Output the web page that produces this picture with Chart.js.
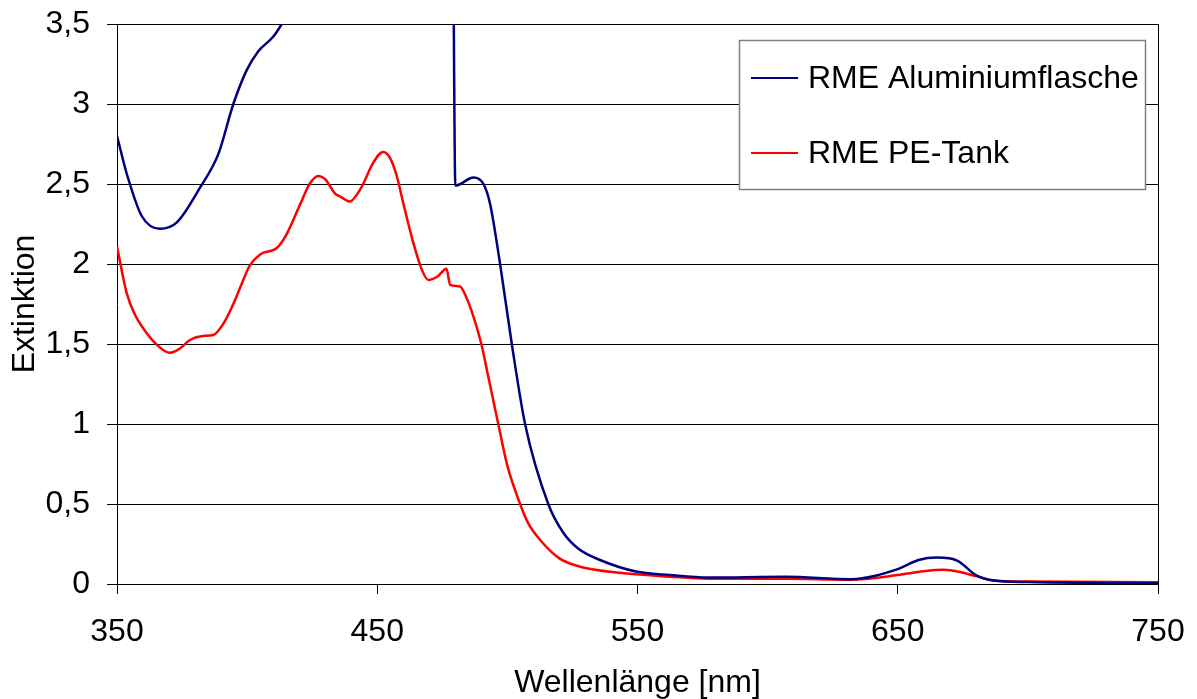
<!DOCTYPE html>
<html>
<head>
<meta charset="utf-8">
<script src="https://cdn.jsdelivr.net/npm/chart.js@4/dist/chart.umd.min.js"></script>
<style>
  html, body { margin: 0; padding: 0; background: #fff; }
  #wrap { width: 1197px; height: 699px; position: relative; }
</style>
</head>
<body>
<div id="wrap"><canvas id="spectrum"></canvas></div>
<script>
// Extinktionsspektren RME (Wellenlänge in nm, Extinktion)
const alWavelength = [350, 354, 359.5, 366.5, 373, 382, 389, 394.7, 399.8, 404.3, 410, 413.3,
  420, 440, 460, 479, 480, 487, 490.8, 493.3, 497.2, 501.7, 506.8, 515.7, 521.5, 527.3,
  535.6, 549.4, 562.5, 577, 607, 632, 650, 658, 665, 673, 680, 687, 700, 750];
const alExtinction = [2.80, 2.55, 2.30, 2.22, 2.26, 2.48, 2.69, 3.00, 3.21, 3.33, 3.42, 3.50,
  3.70, 3.90, 4.00, 4.10, 2.49, 2.54, 2.50, 2.38, 2.00, 1.50, 1.00, 0.50, 0.32, 0.22,
  0.15, 0.078, 0.056, 0.04, 0.045, 0.03, 0.093, 0.15, 0.165, 0.145, 0.056, 0.022, 0.012, 0.005];

const peWavelength = [350, 353.7, 357, 360, 365, 370.4, 374, 378, 383, 387, 391, 394.7, 398,
  401, 405, 411.4, 415, 420.3, 424, 427.4, 430, 433.8, 436, 439.5, 442, 444.6, 448, 452.3,
  455, 457.5, 460, 463.9, 467, 469.6, 473, 476.6, 478, 481.8, 484, 487, 490, 493, 496.5,
  500, 504.9, 508, 512.6, 520, 528, 543, 562.5, 577, 607, 632, 650, 660, 667.6, 674, 680,
  687, 700, 750];
const peExtinction = [2.11, 1.82, 1.68, 1.60, 1.50, 1.445, 1.47, 1.525, 1.55, 1.556, 1.63, 1.75, 1.88,
  1.99, 2.06, 2.10, 2.18, 2.37, 2.50, 2.55, 2.53, 2.44, 2.42, 2.39, 2.43, 2.50, 2.62, 2.70,
  2.66, 2.55, 2.38, 2.13, 1.97, 1.90, 1.92, 1.97, 1.87, 1.86, 1.80, 1.67, 1.50, 1.27, 1.00,
  0.74, 0.50, 0.38, 0.275, 0.16, 0.108, 0.07, 0.046, 0.033, 0.033, 0.027, 0.056, 0.08, 0.089, 0.075, 0.049,
  0.022, 0.015, 0.011];

const seriesLabels = ['RME Aluminiumflasche', 'RME PE-Tank'];
const seriesColors = ['#000080', '#ff0000'];

const FONT = 'Arial, "Liberation Sans", sans-serif';
const FONT_SIZE = 32;
Chart.defaults.font.family = FONT;
Chart.defaults.color = '#000';

const toPoints = (xs, ys) => xs.map((x, i) => ({ x: x, y: ys[i] }));

// Legend box inside the plot area
const boxLegend = {
  id: 'boxLegend',
  afterDraw(chart) {
    const ctx = chart.ctx;
    const x = 739.5, y = 40.5, w = 406, h = 149;
    ctx.save();
    ctx.fillStyle = '#fff';
    ctx.fillRect(x, y, w, h);
    ctx.strokeStyle = '#808080';
    ctx.lineWidth = 1.5;
    ctx.strokeRect(x, y, w, h);
    ctx.font = FONT_SIZE + 'px ' + FONT;
    ctx.textBaseline = 'middle';
    chart.data.datasets.forEach((ds, i) => {
      const cy = 78 + i * 75;
      ctx.strokeStyle = ds.borderColor;
      ctx.lineWidth = 2;
      ctx.beginPath();
      ctx.moveTo(751, cy);
      ctx.lineTo(798, cy);
      ctx.stroke();
      ctx.fillStyle = '#000';
      ctx.fillText(ds.label, 808, cy + 1);
    });
    ctx.restore();
  }
};

new Chart(document.getElementById('spectrum'), {
  type: 'line',
  data: {
    datasets: [
      {
        label: seriesLabels[0],
        data: toPoints(alWavelength, alExtinction),
        borderColor: seriesColors[0],
        borderWidth: 2.5,
        pointRadius: 0,
        cubicInterpolationMode: 'monotone',
        fill: false
      },
      {
        label: seriesLabels[1],
        data: toPoints(peWavelength, peExtinction),
        borderColor: seriesColors[1],
        borderWidth: 2.5,
        pointRadius: 0,
        cubicInterpolationMode: 'monotone',
        fill: false
      }
    ]
  },
  options: {
    responsive: true,
    maintainAspectRatio: false,
    animation: false,
    layout: { padding: { top: 24, right: 39, left: 0, bottom: 0 } },
    plugins: {
      legend: { display: false },
      tooltip: { enabled: false }
    },
    scales: {
      x: {
        type: 'linear',
        min: 350,
        max: 750,
        afterFit: (s) => { s.height = 115; s.paddingLeft = 0; s.paddingRight = 0; },
        ticks: { stepSize: 100, padding: 19, font: { size: FONT_SIZE }, color: '#000' },
        grid: {
          // only the right edge line is drawn across the plot
          color: (c) => (c.tick && c.tick.value === 750 ? '#000' : 'rgba(0,0,0,0)'),
          tickColor: '#000',
          tickLength: 10,
          lineWidth: 1
        },
        border: { display: true, color: '#000', width: 1 },
        title: {
          display: true,
          text: 'Wellenlänge [nm]',
          font: { size: FONT_SIZE, lineHeight: 1 },
          padding: { top: 0, bottom: 0 },
          color: '#000'
        }
      },
      y: {
        min: 0,
        max: 3.5,
        afterFit: (s) => { s.width = 117; s.paddingTop = 0; s.paddingBottom = 0; },
        ticks: {
          stepSize: 0.5,
          padding: 17,
          font: { size: FONT_SIZE },
          color: '#000',
          callback: (v) => String(v).replace('.', ',')
        },
        grid: { color: '#000', tickColor: '#000', tickLength: 10, lineWidth: 1 },
        border: { display: true, color: '#000', width: 1 },
        title: {
          display: true,
          text: 'Extinktion',
          font: { size: FONT_SIZE },
          padding: { top: 6, bottom: 0 },
          color: '#000'
        }
      }
    }
  },
  plugins: [boxLegend]
});
</script>
</body>
</html>
